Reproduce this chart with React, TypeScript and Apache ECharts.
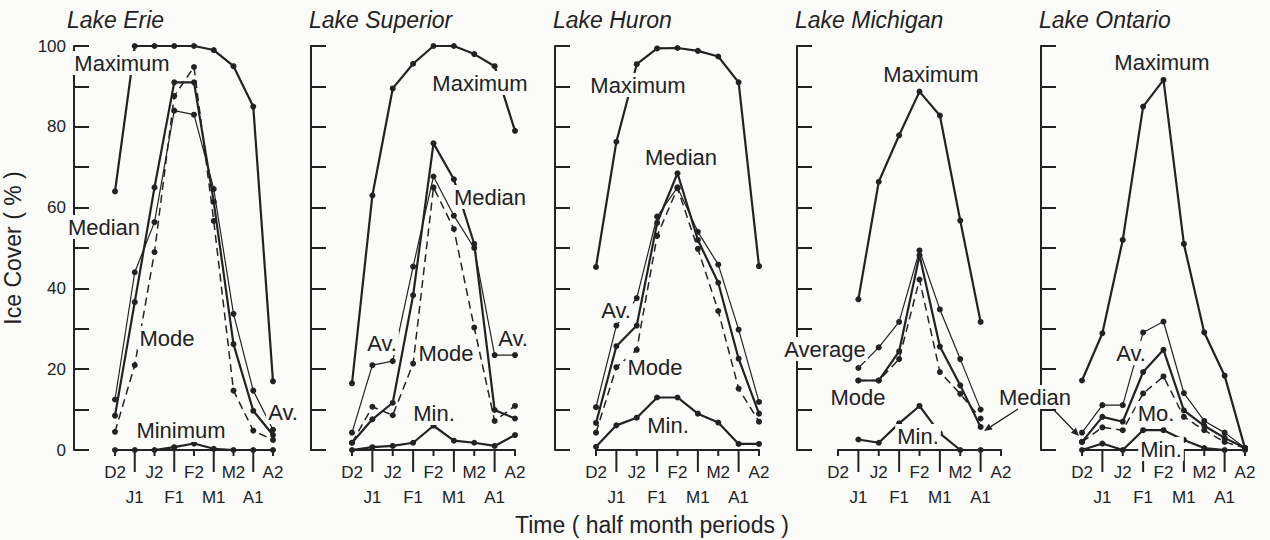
import React, { useEffect, useRef } from "react";
import * as echarts from "echarts";

// ---------- data ----------
const categories = ["D2", "J1", "J2", "F1", "F2", "M1", "M2", "A1", "A2"];
const lakeNames = ["Lake Erie", "Lake Superior", "Lake Huron", "Lake Michigan", "Lake Ontario"];
const yTicks = [0, 20, 40, 60, 80, 100];

const erieMaximum = [64, 100, 100, 100, 100, 99, 95, 85, 17];
const erieMedian = [8.5, 36.6, 65, 91, 91, 61.4, 26.2, 9.7, 3.7];
const erieAverage = [12.5, 44, 56.4, 84, 83, 64.6, 33.7, 14.7, 5];
const erieMode = [4.5, 21, 49, 87.6, 94.8, 56.7, 14.7, 4.8, 2.5];
const erieMinimum = [0, 0, 0, 0.7, 1.6, 0.3, 0, 0, 0];

const superiorMaximum = [16.5, 63, 89.5, 95.6, 100, 100, 98, 95, 79];
const superiorMedian = [1.8, 7.6, 11.7, 38.3, 75.9, 67, 51, 9.9, 7.8];
const superiorAverage = [4.3, 21, 22, 45.4, 67.7, 58, 50, 23.5, 23.5];
const superiorMode = [1.8, 10.7, 8.6, 21.4, 65, 54.7, 30.3, 7.2, 10.9];
const superiorMinimum = [0, 0.7, 1, 1.8, 6, 2.3, 1.8, 1, 3.7];

const huronMaximum = [45.3, 76.3, 95.5, 99.4, 99.5, 98.8, 97.4, 91, 45.5];
const huronMedian = [6.7, 25.7, 30.8, 56.2, 68.5, 52, 41.4, 22.6, 9];
const huronAverage = [10.6, 30.8, 37.6, 57.8, 65, 54, 45.9, 29.8, 11.9];
const huronMode = [4.3, 20.5, 24.8, 53, 64.8, 49.8, 34.4, 15.2, 7];
const huronMinimum = [0.8, 6.1, 8, 13, 13, 9, 6.8, 1.5, 1.5];

const michiganMaximum = [null, 37.3, 66.4, 77.9, 88.7, 82.8, 56.8, 31.7, null];
const michiganMedian = [null, 17.2, 17.2, 24.4, 48.2, 25.6, 16, 5.7, null];
const michiganAverage = [null, 20.3, 25.4, 31.7, 49.4, 34.8, 22.5, 10, null];
const michiganMode = [null, 17.2, 17.2, 22.5, 42.2, 19.3, 13.9, 7.8, null];
const michiganMinimum = [null, 2.6, 1.8, 6.6, 10.9, 4.1, 0, 0, null];

const ontarioMaximum = [17.2, 28.9, 52, 85, 91.6, 51, 29.1, 18.4, 0.4];
const ontarioMedian = [2, 8.2, 7, 19.3, 24.8, 9.8, 6, 3, 0.5];
const ontarioAverage = [4.3, 11.1, 11.1, 29.1, 31.8, 14.1, 7.2, 4.3, 0.5];
const ontarioMode = [2, 5.6, 4.9, 14, 18.2, 8.2, 4.9, 2, 0.5];
const ontarioMinimum = [0, 1.6, 0, 4.9, 4.9, 2.5, 0.5, 0, 0];

const lakeSeries = [
  { Maximum: erieMaximum, Median: erieMedian, Average: erieAverage, Mode: erieMode, Minimum: erieMinimum },
  { Maximum: superiorMaximum, Median: superiorMedian, Average: superiorAverage, Mode: superiorMode, Minimum: superiorMinimum },
  { Maximum: huronMaximum, Median: huronMedian, Average: huronAverage, Mode: huronMode, Minimum: huronMinimum },
  { Maximum: michiganMaximum, Median: michiganMedian, Average: michiganAverage, Mode: michiganMode, Minimum: michiganMinimum },
  { Maximum: ontarioMaximum, Median: ontarioMedian, Average: ontarioAverage, Mode: ontarioMode, Minimum: ontarioMinimum },
];
const kinds = ["Maximum", "Median", "Average", "Mode", "Minimum"];

// ---------- layout / style ----------
const INK = "#222222";
const BG = "#fbfbf9";
const FONT = '"Liberation Sans", Arial, sans-serif';
const panelLeft = [110, 352, 596, 838, 1082];
const plotTop = 46;
const plotHeight = 404;
const plotWidth = 163;
const axisOffset = 41;
const shortTick = 6;
const longTick = 22;

const annotations = [
  // Erie
  { t: "Maximum", x: 122, y: 63 },
  { t: "Median", x: 104, y: 227 },
  { t: "Mode", x: 167, y: 338 },
  { t: "Minimum", x: 181, y: 430 },
  { t: "Av.", x: 283, y: 412 },
  // Superior
  { t: "Maximum", x: 480, y: 83 },
  { t: "Median", x: 490, y: 197 },
  { t: "Av.", x: 382, y: 343 },
  { t: "Mode", x: 446, y: 353 },
  { t: "Av.", x: 513, y: 338 },
  { t: "Min.", x: 434, y: 413 },
  // Huron
  { t: "Maximum", x: 638, y: 85 },
  { t: "Median", x: 681, y: 157 },
  { t: "Av.", x: 616, y: 310 },
  { t: "Mode", x: 655, y: 367 },
  { t: "Min.", x: 668, y: 425 },
  // Michigan
  { t: "Maximum", x: 931, y: 74 },
  { t: "Average", x: 825, y: 349 },
  { t: "Mode", x: 858, y: 397 },
  { t: "Min.", x: 918, y: 436 },
  { t: "Median", x: 1035, y: 397 },
  // Ontario
  { t: "Maximum", x: 1162, y: 62 },
  { t: "Av.", x: 1131, y: 353 },
  { t: "Mo.", x: 1156, y: 413 },
  { t: "Min.", x: 1161, y: 449 },
];

const arrows = [
  [1018, 409, 984, 431],
  [1053, 409, 1079, 436],
];

function lineStyleFor(kind: string) {
  if (kind === "Average") return { color: INK, width: 1.2, type: "solid" };
  if (kind === "Mode") return { color: INK, width: 1.5, type: [8, 5] };
  return { color: INK, width: 2.2, type: "solid" };
}

function arrowElements(a: number[]) {
  const [x1, y1, x2, y2] = a;
  const ang = Math.atan2(y2 - y1, x2 - x1);
  const L = 8;
  const W = 3.5;
  const bx = x2 - L * Math.cos(ang);
  const by = y2 - L * Math.sin(ang);
  const px = -Math.sin(ang) * W;
  const py = Math.cos(ang) * W;
  return [
    { type: "line", z: 100, shape: { x1, y1, x2: bx, y2: by }, style: { stroke: INK, lineWidth: 1.3 } },
    {
      type: "polygon",
      z: 100,
      shape: { points: [[x2, y2], [bx + px, by + py], [bx - px, by - py]] },
      style: { fill: INK },
    },
  ];
}

function buildGraphic(): any[] {
  const graphic: any[] = [];
  lakeNames.forEach((name, i) => {
    graphic.push({
      type: "text",
      z: 100,
      x: panelLeft[i] - axisOffset - 2,
      y: 20,
      style: {
        text: name,
        font: `italic 23px ${FONT}`,
        fill: INK,
        align: "left",
        verticalAlign: "middle",
      },
    });
  });
  annotations.forEach((a) => {
    graphic.push({
      type: "text",
      z: 100,
      x: a.x,
      y: a.y,
      style: {
        text: a.t,
        font: `22px ${FONT}`,
        fill: INK,
        align: "center",
        verticalAlign: "middle",
        backgroundColor: BG,
        padding: [1, 2],
      },
    });
  });
  arrows.forEach((a) => arrowElements(a).forEach((e) => graphic.push(e)));
  graphic.push({
    type: "text",
    z: 100,
    x: 652,
    y: 525,
    style: {
      text: "Time ( half month periods )",
      font: `23px ${FONT}`,
      fill: INK,
      align: "center",
      verticalAlign: "middle",
    },
  });
  return graphic;
}

function buildOption() {
  const grid: any[] = [];
  const xAxis: any[] = [];
  const yAxis: any[] = [];
  const series: any[] = [];

  lakeNames.forEach((name, i) => {
    grid.push({ left: panelLeft[i], top: plotTop, width: plotWidth, height: plotHeight });
    xAxis.push({
      type: "category",
      gridIndex: i,
      position: "bottom",
      data: categories,
      boundaryGap: false,
      z: 10,
      axisLine: { show: true, onZero: false, lineStyle: { color: INK, width: 2 } },
      axisTick: { show: false },
      axisLabel: {
        interval: 0,
        margin: 0,
        color: INK,
        fontFamily: FONT,
        fontSize: 17,
        // each label carries its own tick mark drawn as a rich-text bar above the text
        formatter: (v: string, idx: number) =>
          idx % 2 === 0 ? `{s|}\n{e|${v}}` : `{b|}\n{o|${v}}`,
        rich: {
          s: { width: 2, height: shortTick, lineHeight: shortTick, backgroundColor: INK },
          b: { width: 2, height: longTick, lineHeight: longTick, backgroundColor: INK },
          e: { fontSize: 17, fontFamily: FONT, color: INK, lineHeight: 32, height: 32 },
          o: { fontSize: 17, fontFamily: FONT, color: INK, lineHeight: 50, height: 50 },
        },
      },
      splitLine: { show: false },
    });
    yAxis.push({
      type: "value",
      gridIndex: i,
      min: 0,
      max: 100,
      interval: 10,
      offset: axisOffset,
      axisLine: { show: true, lineStyle: { color: INK, width: 2 } },
      axisTick: { show: true, inside: true, length: 15, lineStyle: { color: INK, width: 2 } },
      axisLabel: {
        show: i === 0,
        margin: 8,
        color: INK,
        fontFamily: FONT,
        fontSize: 17,
        formatter: (v: number) => (yTicks.indexOf(v) >= 0 ? String(v) : ""),
      },
      splitLine: { show: false },
      name: i === 0 ? "Ice Cover ( % )" : "",
      nameLocation: "middle",
      nameGap: 50,
      nameTextStyle: { color: INK, fontFamily: FONT, fontSize: 23 },
    });
    kinds.forEach((kind) => {
      series.push({
        type: "line",
        name: `${name} ${kind}`,
        xAxisIndex: i,
        yAxisIndex: i,
        data: (lakeSeries[i] as any)[kind],
        symbol: "circle",
        symbolSize: 6,
        showSymbol: true,
        connectNulls: false,
        lineStyle: lineStyleFor(kind),
        itemStyle: { color: INK },
        z: 3,
      });
    });
  });

  return {
    animation: false,
    backgroundColor: BG,
    grid,
    xAxis,
    yAxis,
    series,
    graphic: buildGraphic(),
  };
}

export default function App() {
  const ref = useRef<HTMLDivElement>(null);
  useEffect(() => {
    if (!ref.current) return;
    const chart = echarts.init(ref.current, undefined, { renderer: "svg" });
    chart.setOption(buildOption() as any);
    return () => chart.dispose();
  }, []);
  return (
    <div
      ref={ref}
      style={{ position: "absolute", left: 0, top: 0, width: 1270, height: 540 }}
    />
  );
}
